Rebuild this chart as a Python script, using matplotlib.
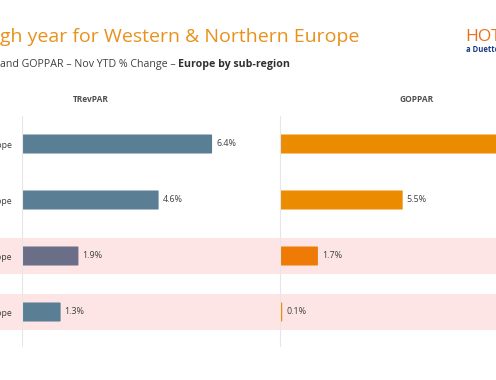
import matplotlib.pyplot as plt
from matplotlib.patches import FancyBboxPatch

plt.rcParams['font.family'] = ['Open Sans', 'DejaVu Sans']

regions = ["Western Europe", "Northern Europe", "Southern Europe", "Central & Eastern Europe"]
trevpar = [6.4, 4.6, 1.9, 1.3]
goppar = [10.9, 5.5, 1.7, 0.1]
trevpar_labels = ["6.4%", "4.6%", "1.9%", "1.3%"]
goppar_labels = ["10.9%", "5.5%", "1.7%", "0.1%"]
trevpar_colors = ["#5a7f94", "#5a7f94", "#6a6e86", "#5a7f94"]
goppar_colors = ["#ea8b00", "#ea8b00", "#ee7b06", "#ea8b00"]
shaded_rows = [2, 3]

W, H = 496, 380
fig = plt.figure(figsize=(W / 100, H / 100), dpi=100)


def px_axes(x0, x1, y0, y1, **kw):
    return fig.add_axes([x0 / W, 1 - y1 / H, (x1 - x0) / W, (y1 - y0) / H], **kw)


y_top, y_bot = 116, 340
n = len(regions)

# background bands across the whole width
bg = px_axes(0, W, y_top, y_bot)
bg.set_xlim(0, 1)
bg.set_ylim(n - 0.5, -0.5)
for r in shaded_rows:
    bg.axhspan(r - 0.33, r + 0.33, color="#fde5e5", lw=0)
bg.axis("off")


def panel(x0, x1, scale, values, labels, colors, title, show_names):
    ax = px_axes(x0, x1, y_top, y_bot)
    ax.patch.set_alpha(0)
    ax.set_xlim(0, (x1 - x0) / scale)
    ax.set_ylim(n - 0.5, -0.5)
    for i, (v, c) in enumerate(zip(values, colors)):
        w = max(v, 0.06)
        ax.add_patch(FancyBboxPatch((0, i - 0.17), w, 0.34,
                                    boxstyle="round,pad=0,rounding_size=0.05",
                                    mutation_aspect=1 / 3.4 * 0.5,
                                    fc=c, ec="none", clip_on=False))
        ax.text(v + 4 / scale, i, labels[i], va="center", ha="left",
                fontsize=6.4, color="#404040", clip_on=False)
    ax.plot([0, 0], [-0.5, n - 0.5 + 0.1], color="#e6e6e6", lw=0.8, clip_on=False)
    for s in ax.spines.values():
        s.set_visible(False)
    ax.set_xticks([])
    ax.set_yticks(range(n))
    if show_names:
        ax.set_yticklabels(regions, fontsize=6.4, color="#404040")
        ax.tick_params(axis="y", length=0, pad=7.5)
    else:
        ax.set_yticklabels([])
        ax.tick_params(axis="y", length=0)
    ax.set_title(title, fontsize=6, fontweight="bold", color="#505050", pad=10)
    return ax


ax1 = panel(22, 250, 29.7, trevpar, trevpar_labels, trevpar_colors, "TRevPAR", True)
ax2 = panel(280, W, 22.3, goppar, goppar_labels, goppar_colors, "GOPPAR", False)
ax1.title.set_position((0.3, 1))
ax2.title.set_position((0.634, 1))

# header
fig.text(0 / W, 1 - 37 / H, "gh year for Western & Northern Europe", fontsize=14,
         color="#e8911c", va="center", ha="left")
t1 = fig.text(0, 1 - 64 / H, "and GOPPAR \u2013 Nov YTD % Change \u2013 ", fontsize=7.7,
              color="#404040", va="center", ha="left")
fig.canvas.draw()
bb = t1.get_window_extent()
fig.text(bb.x1 / W, 1 - 64 / H, "Europe by sub-region", fontsize=7.7, fontweight="bold",
         color="#303030", va="center", ha="left")

# logo
fig.text(465 / W, 1 - 37 / H, "HOTSTATS", fontsize=12.5, color="#e8701c", va="center", ha="left")
fig.text(466 / W, 1 - 50 / H, "a Duetto company", fontsize=5.5, fontweight="bold",
         color="#1f3a8a", va="center", ha="left")

fig.savefig("out.png", dpi=100)
